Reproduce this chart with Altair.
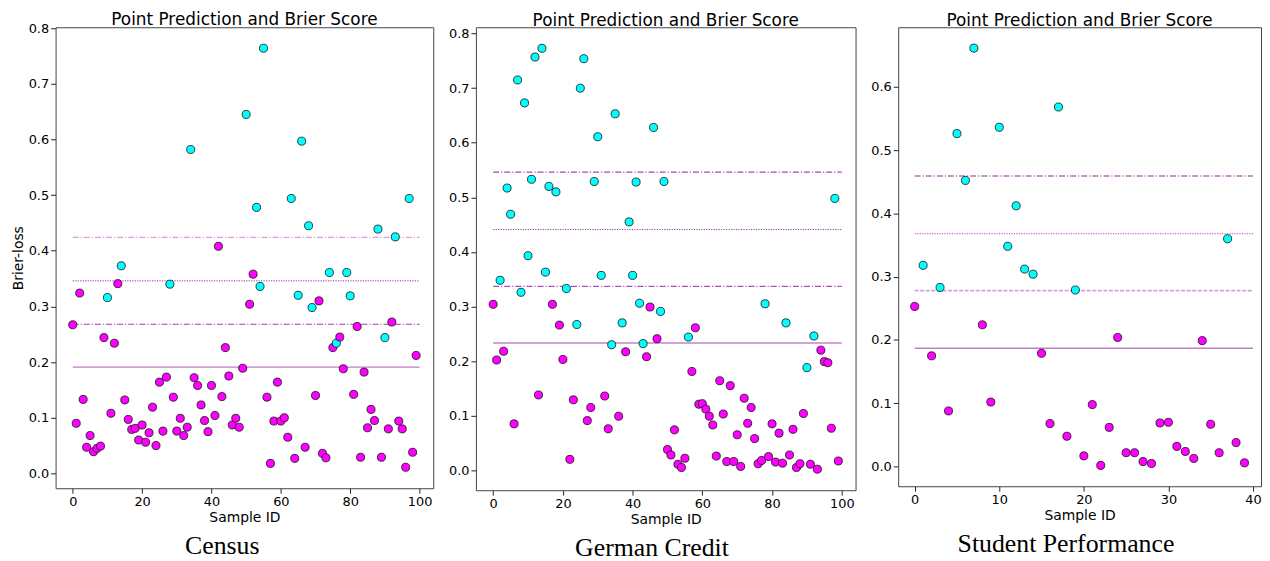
import altair as alt
import pandas as pd

# ---------------- data ----------------
census_loss = [0.267, 0.090, 0.324, 0.133, 0.047, 0.068, 0.039, 0.045, 0.049, 0.244,
               0.316, 0.108, 0.234, 0.341, 0.373, 0.132, 0.097, 0.079, 0.081, 0.060,
               0.087, 0.056, 0.073, 0.119, 0.050, 0.164, 0.076, 0.173, 0.340, 0.137,
               0.076, 0.099, 0.068, 0.083, 0.582, 0.172, 0.158, 0.123, 0.095, 0.075,
               0.158, 0.104, 0.408, 0.138, 0.226, 0.175, 0.087, 0.099, 0.083, 0.189,
               0.645, 0.304, 0.358, 0.478, 0.336, 0.764, 0.137, 0.018, 0.094, 0.164,
               0.094, 0.100, 0.065, 0.494, 0.027, 0.320, 0.597, 0.047, 0.445, 0.298,
               0.140, 0.310, 0.036, 0.028, 0.361, 0.226, 0.234, 0.245, 0.188, 0.361,
               0.319, 0.142, 0.264, 0.029, 0.182, 0.082, 0.115, 0.095, 0.439, 0.029,
               0.244, 0.080, 0.272, 0.425, 0.094, 0.080, 0.011, 0.494, 0.038, 0.212]
census_cyan = [10, 14, 28, 34, 50, 53, 54, 55, 63, 65, 66, 68, 69, 74, 76, 79, 80, 88, 90, 93, 97]
census_lines = [0.424, 0.346, 0.268, 0.191]

german_loss = [0.304, 0.202, 0.348, 0.218, 0.517, 0.469, 0.085, 0.715, 0.326, 0.673,
               0.393, 0.533, 0.757, 0.138, 0.773, 0.363, 0.520, 0.304, 0.510, 0.266,
               0.203, 0.333, 0.020, 0.129, 0.267, 0.700, 0.754, 0.091, 0.115, 0.529,
               0.611, 0.357, 0.136, 0.076, 0.230, 0.653, 0.099, 0.270, 0.217, 0.455,
               0.357, 0.528, 0.306, 0.232, 0.208, 0.299, 0.628, 0.241, 0.291, 0.529,
               0.038, 0.028, 0.074, 0.011, 0.005, 0.022, 0.244, 0.181, 0.261, 0.121,
               0.122, 0.112, 0.099, 0.083, 0.026, 0.164, 0.103, 0.016, 0.155, 0.016,
               0.065, 0.007, 0.132, 0.086, 0.115, 0.058, 0.012, 0.018, 0.305, 0.025,
               0.085, 0.015, 0.068, 0.013, 0.270, 0.028, 0.075, 0.005, 0.012, 0.104,
               0.188, 0.011, 0.246, 0.002, 0.220, 0.199, 0.197, 0.077, 0.498, 0.017]
german_cyan = [2, 4, 5, 7, 8, 9, 10, 11, 12, 14, 15, 16, 18, 21, 24, 25, 26, 29, 30, 31,
               34, 35, 37, 39, 40, 41, 42, 43, 46, 48, 49, 56, 78, 84, 90, 92, 98]
german_lines = [0.546, 0.441, 0.337, 0.233]

student_loss = [0.253, 0.318, 0.175, 0.283, 0.088, 0.526, 0.452, 0.661, 0.224, 0.102,
                0.536, 0.348, 0.412, 0.312, 0.304, 0.179, 0.068, 0.568, 0.048, 0.279,
                0.017, 0.098, 0.002, 0.062, 0.204, 0.022, 0.022, 0.008, 0.005, 0.069,
                0.070, 0.032, 0.024, 0.013, 0.199, 0.067, 0.022, 0.360, 0.038, 0.006]
student_cyan = [1, 3, 5, 6, 7, 10, 11, 12, 13, 14, 17, 19, 37]
student_lines = [0.459, 0.368, 0.278, 0.187]

captions = ["Census", "German Credit", "Student Performance"]
panel_title = "Point Prediction and Brier Score"

# ---------------- styles ----------------
FONT = "DejaVu Sans"
DASHDOT = [6, 2, 1.2, 2]
DOTTED = [1.2, 1.3]
DASHED = [4, 1.6]

census_styles = [("#d6a0d8", DASHDOT, 1.3), ("#8f2f9c", DOTTED, 1.0),
                 ("#a43ab2", DASHDOT, 1.2), ("#c47ccb", None, 1.3)]
german_styles = [("#a646b4", DASHDOT, 1.3), ("#8e3a9e", DOTTED, 1.0),
                 ("#b04cbe", DASHDOT, 1.2), ("#d2a2d8", None, 2.0)]
student_styles = [("#92269a", DASHDOT, 1.2), ("#c46ccc", DOTTED, 1.2),
                  ("#d6a0dc", DASHED, 1.8), ("#c47ccb", None, 1.3)]


def panel(vals, cyan_idx, lines, styles, width, height, xticks, yticks,
          ytitle, caption, toffset):
    n = len(vals)
    ids = list(range(n))
    cls = ["cyan" if i in cyan_idx else "magenta" for i in ids]
    df = pd.DataFrame({"id": ids, "loss": vals, "cls": cls})
    xdom = [-(n - 1) * 0.05, (n - 1) * 1.05]
    lo, hi = min(vals), max(vals)
    r = hi - lo
    ydom = [lo - 0.05 * r, hi + 0.05 * r]
    xscale = alt.Scale(domain=xdom, nice=False, zero=False)
    yscale = alt.Scale(domain=ydom, nice=False, zero=False)
    xaxis = alt.Axis(values=xticks, title="Sample ID", format="d")
    yaxis = alt.Axis(values=yticks, format=".1f", title=ytitle) if ytitle else \
        alt.Axis(values=yticks, format=".1f")
    ytit = ytitle if ytitle else None
    layers = []
    for v, (color, dash, sw) in zip(lines, styles):
        ldf = pd.DataFrame({"x0": [0], "x1": [n], "y": [v]})
        kw = dict(color=color, strokeWidth=sw)
        if dash:
            kw["strokeDash"] = dash
        layers.append(
            alt.Chart(ldf).mark_rule(**kw).encode(
                x=alt.X("x0:Q", scale=xscale, axis=xaxis, title="Sample ID"),
                x2="x1:Q",
                y=alt.Y("y:Q", scale=yscale, axis=yaxis, title=ytit),
            )
        )
    pts = alt.Chart(df).mark_circle(size=66, opacity=1, stroke="#111",
                                    strokeWidth=0.8).encode(
        x=alt.X("id:Q", scale=xscale, axis=xaxis, title="Sample ID"),
        y=alt.Y("loss:Q", scale=yscale, axis=yaxis, title=ytit),
        color=alt.Color("cls:N", scale=alt.Scale(domain=["magenta", "cyan"],
                                                  range=["#ff00ff", "#00ffff"]),
                        legend=None),
    )
    layers.append(pts)
    inner = alt.layer(*layers).properties(
        width=width, height=height,
        title=alt.TitleParams(panel_title, font=FONT, fontSize=17,
                              fontWeight="normal", color="black",
                              anchor="middle", frame="group", offset=toffset),
    )
    return alt.vconcat(inner).properties(
        title=alt.TitleParams(caption, orient="bottom", font="Liberation Serif",
                              fontSize=26, fontWeight="normal", color="black",
                              anchor="middle", frame="bounds", offset=8)
    )


yt8 = [0.0, 0.1, 0.2, 0.3, 0.4, 0.5, 0.6, 0.7, 0.8]
yt6 = [0.0, 0.1, 0.2, 0.3, 0.4, 0.5, 0.6]

p1 = panel(census_loss, census_cyan, census_lines, census_styles, 381, 465,
           [0, 20, 40, 60, 80, 100], yt8, "Brier-loss", captions[0], -7)
p2 = panel(german_loss, german_cyan, german_lines, german_styles, 383, 467,
           [0, 20, 40, 60, 80, 100], yt8, None, captions[1], -3)
p3 = panel(student_loss, student_cyan, student_lines, student_styles, 366, 463,
           [0, 10, 20, 30, 40], yt6, None, captions[2], -3)

chart = alt.hconcat(p1, p2, p3, spacing=13).properties(
    padding={"left": 2, "top": 0, "right": 0, "bottom": 0}
).configure_view(
    stroke="#444", strokeWidth=1
).configure_axis(
    grid=False, domain=False, tickSize=5, tickColor="#222", labelPadding=2,
    labelFont=FONT, labelFontSize=13, labelColor="black",
    titleFont=FONT, titleFontSize=14, titleFontWeight="normal", titleColor="black",
    titlePadding=3,
).configure_concat(spacing=13)

chart.save("out.html", embed_options={"renderer": "svg", "actions": False})
